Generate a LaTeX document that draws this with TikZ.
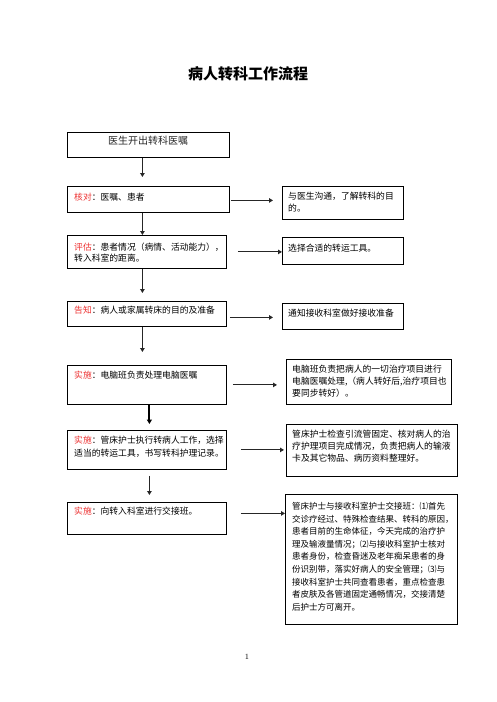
\documentclass[tikz,border=0pt]{standalone}
\usepackage{fontspec}
\newfontfamily\cjk{Noto Sans CJK SC}
\usetikzlibrary{arrows.meta,calc}
\definecolor{lbl}{RGB}{238,50,50}
\newcommand{\lab}[1]{\textcolor{lbl}{#1}}
\begin{document}
\begin{tikzpicture}[x=1pt,y=-1pt,
  box/.style={draw=black,line width=0.8pt,inner sep=0pt,anchor=north west},
  txt/.style={inner sep=0pt,anchor=north west,align=left,font=\cjk\fontsize{8.8}{12}\selectfont},
  arr/.style={draw=black!85,line width=1pt,-{Triangle[length=4pt,width=4.5pt]}},
  thickarr/.style={draw=black,line width=2pt,-{Triangle[length=4.5pt,width=5pt]}}]
\useasboundingbox (0,0) rectangle (496,702);
\fill[white] (0,0) rectangle (496,702);

\node[font=\cjk\bfseries\fontsize{15}{18}\selectfont] (title) at (248,74) {病人转科工作流程};

% left boxes
\node[box,minimum width=162pt,minimum height=25pt] (b1) at (67,132) {};
\node[box,minimum width=162pt,minimum height=26pt] (b2) at (67,186) {};
\node[box,minimum width=159pt,minimum height=33pt] (b3) at (67,235) {};
\node[box,minimum width=159pt,minimum height=25pt] (b4) at (67,301) {};
\node[box,minimum width=159pt,minimum height=39pt] (b5) at (67,365) {};
\node[box,minimum width=159pt,minimum height=39pt] (b6) at (67,430) {};
\node[box,minimum width=159pt,minimum height=32pt] (b7) at (67,502) {};
% right boxes
\node[box,minimum width=121pt,minimum height=33pt] (r1) at (282,186) {};
\node[box,minimum width=121pt,minimum height=27pt] (r2) at (282,237) {};
\node[box,minimum width=121pt,minimum height=26pt] (r3) at (282,303) {};
\node[box,minimum width=165pt,minimum height=45pt] (r4) at (286,359) {};
\node[box,minimum width=171pt,minimum height=52pt] (r5) at (286,424) {};
\node[box,minimum width=172pt,minimum height=130pt] (r6) at (285,494) {};

% texts
\node[font=\cjk\fontsize{10}{12}\selectfont,text=black!85,inner sep=0pt] (t1) at (148,141) {医生开出转科医嘱};
\node[txt] (t2) at (74,193.3) {\lab{核对}：医嘱、患者};
\node[txt,font=\cjk\fontsize{8.8}{11}\selectfont] (t3) at (74,242.3) {\lab{评估}：患者情况（病情、活动能力），\\转入科室的距离。};
\node[txt] (t4) at (74,306.3) {\lab{告知}：病人或家属转床的目的及准备};
\node[txt] (t5) at (74,371.3) {\lab{实施}：电脑班负责处理电脑医嘱};
\node[txt,font=\cjk\fontsize{8.8}{13}\selectfont] (t6) at (74,436.3) {\lab{实施}：管床护士执行转病人工作，选择\\适当的转运工具，书写转科护理记录。};
\node[txt] (t7) at (74,507.3) {\lab{实施}：向转入科室进行交接班。};

\node[txt] (s1) at (288,192.3) {与医生沟通，了解转科的目\\的。};
\node[txt] (s2) at (288,244.3) {选择合适的转运工具。};
\node[txt] (s3) at (288,309.3) {通知接收科室做好接收准备};
\node[txt] (s4) at (292,365.3) {电脑班负责把病人的一切治疗项目进行\\电脑医嘱处理,（病人转好后,治疗项目也\\要同步转好）。};
\node[txt] (s5) at (292,430.3) {管床护士检查引流管固定、核对病人的治\\疗护理项目完成情况，负责把病人的输液\\卡及其它物品、病历资料整理好。};
\node[txt,font=\cjk\fontsize{8.5}{12.6}\selectfont] (s6) at (292,502) {管床护士与接收科室护士交接班：⑴首先\\交诊疗经过、特殊检查结果、转科的原因，\\患者目前的生命体征，今天完成的治疗护\\理及输液量情况；⑵与接收科室护士核对\\患者身份，检查昏迷及老年痴呆患者的身\\份识别带，落实好病人的安全管理；⑶与\\接收科室护士共同查看患者，重点检查患\\者皮肤及各管道固定通畅情况，交接清楚\\后护士方可离开。};

% vertical arrows
\draw[arr,shorten >=9pt] ([xshift=-6pt]b1.south) -- ([xshift=-6pt]b1.south |- b2.north);
\draw[arr] ([xshift=-6pt]b2.south) -- ([xshift=-6pt]b2.south |- b3.north);
\draw[arr,shorten >=8pt] ([xshift=-4.5pt]b3.south) -- ([xshift=-4.5pt]b3.south |- b4.north);
\draw[arr,shorten >=13pt] ([xshift=-4.5pt]b4.south) -- ([xshift=-4.5pt]b4.south |- b5.north);
\draw[thickarr,shorten >=6pt] ([xshift=2.5pt]b5.south) -- ([xshift=2.5pt]b5.south |- b6.north);
\draw[arr,line width=1.3pt,shorten <=6pt,shorten >=7pt] ([xshift=2.5pt]b6.south) -- ([xshift=2.5pt]b6.south |- b7.north);

% horizontal arrows
\draw[arr,shorten <=1pt,shorten >=9pt] ([yshift=-1pt]b2.east) -- ([yshift=-1pt]b2.east -| r1.west);
\draw[arr,shorten <=11pt] (b3.east) -- (b3.east -| r2.west);
\draw[arr,shorten <=3pt,shorten >=9pt] ([yshift=-3.5pt]b4.east) -- ([yshift=-3.5pt]b4.east -| r3.west);
\draw[arr,shorten <=6pt,shorten >=9pt] (b5.east) -- (b5.east -| r4.west);
\draw[arr,shorten <=14pt,shorten >=2pt] (b6.east) -- (b6.east -| r5.west);
\draw[arr,shorten <=14pt] ([yshift=5pt]b7.east) -- ([yshift=5pt]b7.east -| r6.west);

\node[font=\fontsize{8}{9}\selectfont,inner sep=0pt] (pg) at (247,657) {1};
\end{tikzpicture}
\end{document}
